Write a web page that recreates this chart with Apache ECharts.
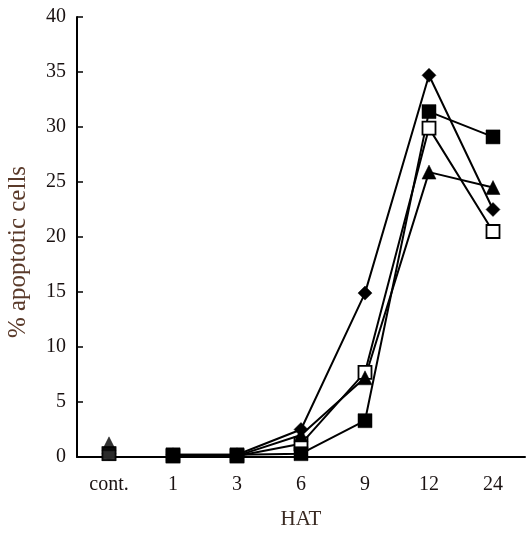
<!DOCTYPE html>
<html><head><meta charset="utf-8">
<script src="https://cdn.jsdelivr.net/npm/echarts@6/dist/echarts.min.js"></script>
<style>html,body{margin:0;padding:0;background:#fff}#c{width:526px;height:533px}</style>
</head><body><div id="c"></div>
<script>
const categories = ['cont.', '1', '3', '6', '9', '12', '24'];
const yTicks = [0, 5, 10, 15, 20, 25, 30, 35, 40];
const xTitle = 'HAT';
const yTitle = '% apoptotic cells';
// values per series (cont. point is drawn unconnected)
const diamondVals   = [0.3, 0.2, 0.2, 2.5, 14.9, 34.7, 22.5];
const filledSqVals  = [0.3, 0.2, 0.2, 0.3, 3.3, 31.4, 29.1];
const openSqVals    = [0.3, 0.1, 0.1, 1.2, 7.7, 29.9, 20.5];
const triangleVals  = [1.2, 0.1, 0.1, 2.0, 7.2, 25.9, 24.5];

const diamondPath = 'path://M0,-1L1,0L0,1L-1,0Z';
const defs = [
  {name:'diamond', vals: diamondVals, symbol: diamondPath, size: 14, fill:'#000'},
  {name:'openSquare', vals: openSqVals, symbol:'rect', size: 13, fill:'#fff'},
  {name:'filledSquare', vals: filledSqVals, symbol:'rect', size: 14, fill:'#000'},
  {name:'triangle', vals: triangleVals, symbol:'triangle', size: 14, fill:'#000'}
];
const series = [];
defs.forEach(d => {
  const item = {color:d.fill, borderColor:'#000', borderWidth: d.fill==='#fff'?1.8:0.5};
  series.push({
    type:'line', name:d.name,
    data: d.vals.map((v,i)=> i===0 ? '-' : v),
    symbol: d.symbol, symbolSize: d.size, showAllSymbol:true,
    lineStyle:{color:'#000', width:2},
    itemStyle:item, animation:false, z: 3
  });
  series.push({
    type:'scatter', name:d.name+'-cont',
    data: d.vals.map((v,i)=> i===0 ? v : '-'),
    symbol: d.symbol, symbolSize: d.size,
    itemStyle:item, animation:false, z: 3
  });
});
const chart = echarts.init(document.getElementById('c'));
chart.setOption({
  backgroundColor:'#fff',
  textStyle:{fontFamily:'Liberation Serif'},
  grid:{left:77, right:1, top:17, bottom:76, outerBoundsMode:'none', containLabel:false},
  xAxis:{
    type:'category', data:categories, boundaryGap:true,
    name:xTitle, nameLocation:'middle', nameGap:52,
    nameTextStyle:{fontFamily:'Liberation Serif', fontSize:21, color:'#3a2a22'},
    axisLine:{lineStyle:{color:'#000', width:2}},
    axisTick:{inside:true, length:6, lineStyle:{color:'#000', width:1.5}},
    axisLabel:{fontFamily:'Liberation Serif', fontSize:20, color:'#1a1212', margin:18}
  },
  yAxis:{
    type:'value', min:0, max:40, interval:5,
    axisLine:{show:true, lineStyle:{color:'#000', width:2}},
    axisTick:{show:true, inside:true, length:6, lineStyle:{color:'#000', width:1.5}},
    splitLine:{show:false},
    axisLabel:{fontFamily:'Liberation Serif', fontSize:20, color:'#1a1212', margin:11,
      formatter: v => yTicks.includes(v) ? String(v) : ''}
  },
  graphic:[{
    type:'text', x:18, y:252, rotation:Math.PI/2,
    style:{text:yTitle, fontFamily:'Liberation Serif', fontSize:25, fill:'#5a3a2a',
      align:'center', verticalAlign:'middle'}
  }],
  series: series
});
</script></body></html>
